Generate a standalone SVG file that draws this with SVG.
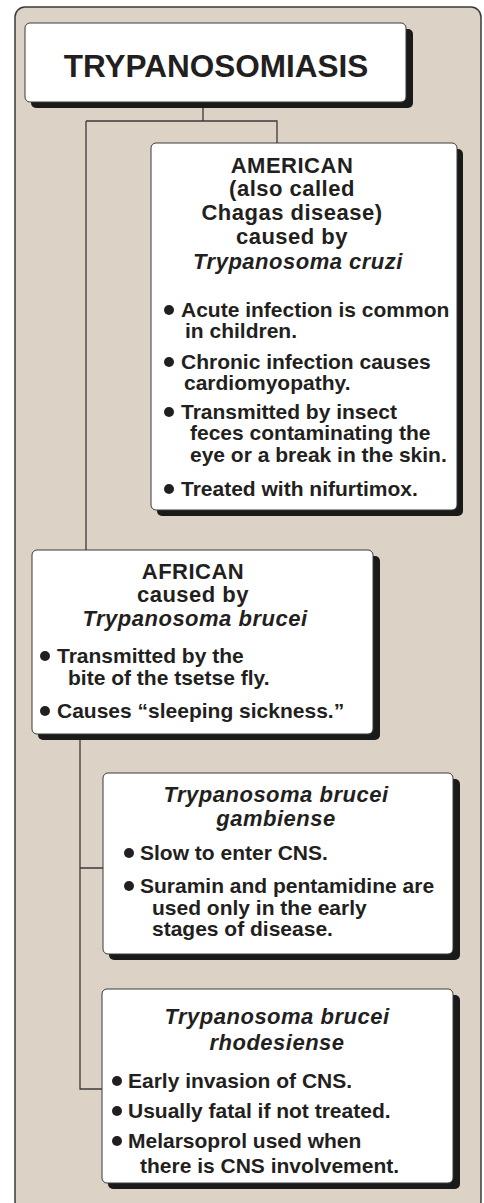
<svg xmlns="http://www.w3.org/2000/svg" width="484" height="1203" viewBox="0 0 484 1203">
<style>
.panel{fill:#dcd2c5;stroke:#3a3a3a;stroke-width:1.5}
.shadow{fill:#1a1a1a}
.box{fill:#ffffff;stroke:#3a3a3a;stroke-width:1}
.conn{fill:none;stroke:#3a3a3a;stroke-width:1.3}
text{font-family:"Liberation Sans",Arial,Helvetica,sans-serif;font-weight:bold;fill:#231f20}
.h{font-size:22px;letter-spacing:0.5px;text-anchor:middle}
.hi{font-size:22px;letter-spacing:0.5px;text-anchor:middle;font-style:italic}
.b{font-size:21px}
.dot{fill:#231f20}
</style>
<rect class="panel" x="15" y="7" width="466" height="1204" rx="10"/>
<g id="connectors">
<path class="conn" d="M203,107 V121 M86,121 H277 V143 M86,121 V550"/>
<path class="conn" d="M80,740 V1089 H102 M80,868 H103"/>
</g>
<g id="title">
<rect class="shadow" x="31" y="29" width="382" height="79" rx="5"/>
<rect class="box" x="25" y="23" width="381" height="79" rx="5"/>
<text x="216" y="77" style="font-size:31.5px;text-anchor:middle">TRYPANOSOMIASIS</text>
</g>
<g id="american">
<rect class="shadow" x="157" y="149" width="306" height="367" rx="5"/>
<rect class="box" x="151" y="143" width="306" height="367" rx="5"/>
<text class="h" x="292" y="173">AMERICAN</text>
<text class="h" x="292" y="196">(also called</text>
<text class="h" x="292" y="220">Chagas disease)</text>
<text class="h" x="292" y="244">caused by</text>
<text class="hi" x="298" y="269">Trypanosoma cruzi</text>
<circle class="dot" cx="169" cy="310" r="5"/>
<text class="b" x="181" y="317">Acute infection is common</text>
<text class="b" x="185" y="338">in children.</text>
<circle class="dot" cx="169" cy="362" r="5"/>
<text class="b" x="181" y="369">Chronic infection causes</text>
<text class="b" x="184" y="390">cardiomyopathy.</text>
<circle class="dot" cx="169" cy="412" r="5"/>
<text class="b" x="181" y="419">Transmitted by insect</text>
<text class="b" x="190" y="440">feces contaminating the</text>
<text class="b" x="190" y="462">eye or a break in the skin.</text>
<circle class="dot" cx="169" cy="489" r="5"/>
<text class="b" x="181" y="496">Treated with nifurtimox.</text>
</g>
<g id="african">
<rect class="shadow" x="38" y="556" width="342" height="184" rx="5"/>
<rect class="box" x="32" y="550" width="341" height="184" rx="5"/>
<text class="h" x="193" y="579">AFRICAN</text>
<text class="h" x="193" y="602">caused by</text>
<text class="hi" x="195" y="626">Trypanosoma brucei</text>
<circle class="dot" cx="45" cy="656" r="5"/>
<text class="b" x="57" y="663">Transmitted by the</text>
<text class="b" x="68" y="685">bite of the tsetse fly.</text>
<circle class="dot" cx="45" cy="711" r="5"/>
<text class="b" x="57" y="718">Causes “sleeping sickness.”</text>
</g>
<g id="gambiense">
<rect class="shadow" x="109" y="779" width="351" height="181" rx="5"/>
<rect class="box" x="103" y="773" width="350" height="181" rx="5"/>
<text class="hi" x="276" y="802">Trypanosoma brucei</text>
<text class="hi" x="276" y="826">gambiense</text>
<circle class="dot" cx="129" cy="853" r="5"/>
<text class="b" x="140" y="860">Slow to enter CNS.</text>
<circle class="dot" cx="129" cy="886" r="5"/>
<text class="b" x="140" y="893">Suramin and pentamidine are</text>
<text class="b" x="152" y="915">used only in the early</text>
<text class="b" x="152" y="936">stages of disease.</text>
</g>
<g id="rhodesiense">
<rect class="shadow" x="108" y="995" width="352" height="194" rx="5"/>
<rect class="box" x="102" y="989" width="351" height="194" rx="5"/>
<text class="hi" x="277" y="1024">Trypanosoma brucei</text>
<text class="hi" x="277" y="1050">rhodesiense</text>
<circle class="dot" cx="117" cy="1081" r="5"/>
<text class="b" x="128" y="1088">Early invasion of CNS.</text>
<circle class="dot" cx="117" cy="1111" r="5"/>
<text class="b" x="128" y="1118">Usually fatal if not treated.</text>
<circle class="dot" cx="117" cy="1141" r="5"/>
<text class="b" x="128" y="1148">Melarsoprol used when</text>
<text class="b" x="140" y="1173">there is CNS involvement.</text>
</g>
</svg>
